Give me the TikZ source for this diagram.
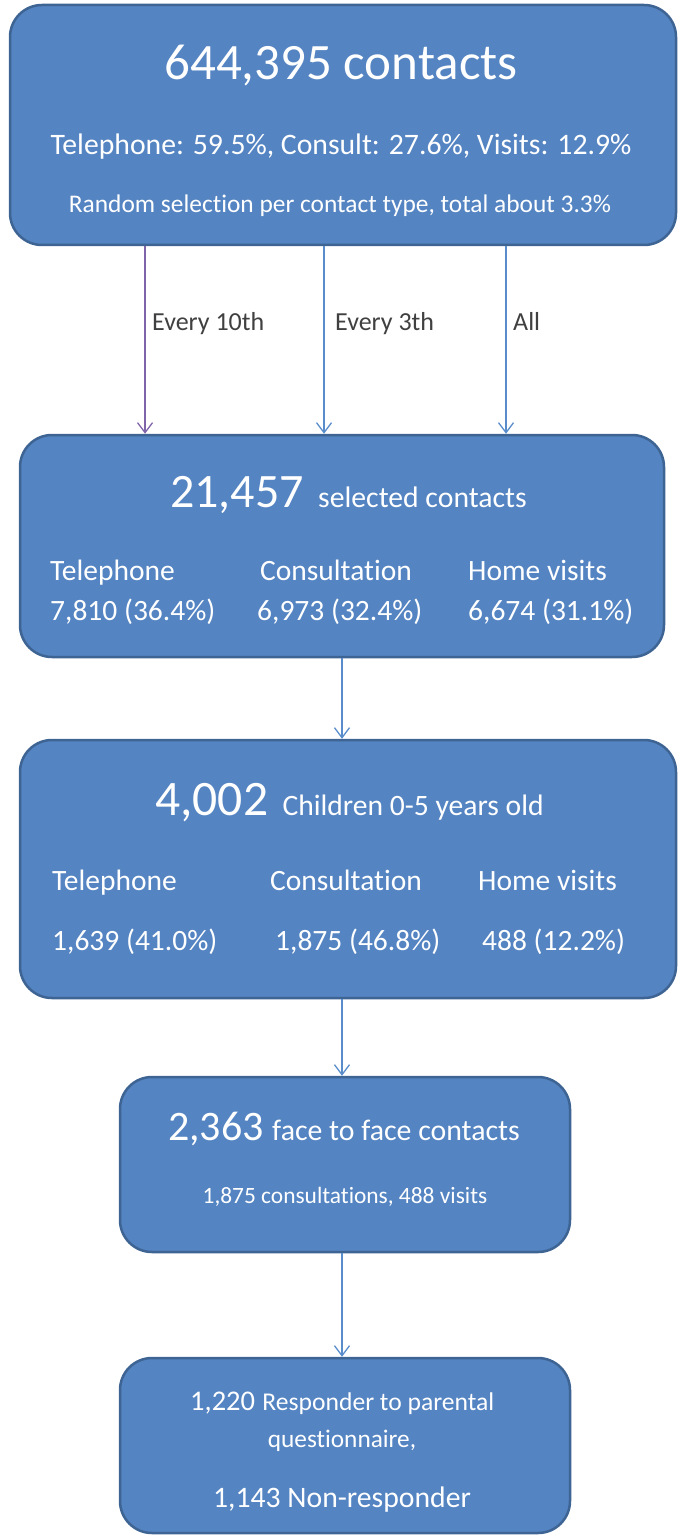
\documentclass[tikz,border=0pt]{standalone}
\usepackage{fontspec}
\setmainfont{Carlito}[Ligatures=NoCommon]
\usetikzlibrary{arrows.meta,positioning}
\definecolor{boxfill}{RGB}{84,132,194}
\definecolor{boxedge}{RGB}{62,100,148}
\definecolor{linkblue}{RGB}{88,140,202}
\definecolor{linkpurple}{RGB}{128,100,170}
\definecolor{labelgray}{RGB}{64,64,64}

\begin{document}
\begin{tikzpicture}[x=1pt,y=-1pt,
  flowbox/.style={draw=boxedge, line width=2.5pt, fill=boxfill, rounded corners=32pt, inner sep=0pt},
  boxtext/.style={text=white, inner sep=0pt},
  link/.style={line width=1.3pt, -{Straight Barb[length=10pt,width=15pt]}},
  linklabel/.style={text=labelgray, inner sep=0pt, anchor=base west, font=\fontsize{26}{30}\selectfont}]
\useasboundingbox (0,0) rectangle (685,1538);

% boxes
\node[flowbox, minimum width=666, minimum height=240] (contacts) at (343,125) {};
\node[flowbox, minimum width=644, minimum height=222] (selected) at (342,546) {};
\node[flowbox, minimum width=656, minimum height=258] (children) at (348,869) {};
\node[flowbox, minimum width=450, minimum height=175] (facetoface) at (345,1164.5) {};
\node[flowbox, minimum width=450, minimum height=175] (response) at (345,1445.5) {};

% all contacts
\node[boxtext, anchor=base, font=\fontsize{51}{60}\selectfont] (total) at (341,80) {644,395 contacts};
\node[boxtext, anchor=base, font=\fontsize{29.7}{34}\selectfont] (shares) at (341,155) {Telephone: 59.5\%, Consult: 27.6\%, Visits: 12.9\%};
\node[boxtext, anchor=base, font=\fontsize{25.4}{30}\selectfont] (sampling) at (340,213) {Random selection per contact type, total about 3.3\%};

% sampling arrows
\coordinate (tenth) at (145,0);
\coordinate (third) at (324,0);
\coordinate (every) at (506,0);
\coordinate (spine) at (342,0);
\draw[link, linkpurple] (contacts.south -| tenth) -- (selected.north -| tenth);
\draw[link, linkblue] (contacts.south -| third) -- (selected.north -| third);
\draw[link, linkblue] (contacts.south -| every) -- (selected.north -| every);
\node[linklabel] (lab10) at (152,330) {Every 10th};
\node[linklabel] (lab3) at (335,330) {Every 3th};
\node[linklabel] (laball) at (513,330) {All};

% selected contacts
\node[boxtext, anchor=base west, font=\fontsize{48}{56}\selectfont] (selnum) at (170,507) {21,457};
\node[boxtext, base right=14pt of selnum, font=\fontsize{29.7}{34}\selectfont] (seltext) {selected contacts};
\node[boxtext, anchor=base west, font=\fontsize{29.5}{34}\selectfont] (seltel) at (50,580) {Telephone};
\node[boxtext, anchor=base west, font=\fontsize{29.5}{34}\selectfont] (selcon) at (260,580) {Consultation};
\node[boxtext, anchor=base west, font=\fontsize{29.5}{34}\selectfont] (selhome) at (468,580) {Home visits};
\node[boxtext, anchor=base west, font=\fontsize{29.5}{34}\selectfont] (seltelv) at (50,620) {7,810 (36.4\%)};
\node[boxtext, anchor=base west, font=\fontsize{29.5}{34}\selectfont] (selconv) at (257,620) {6,973 (32.4\%)};
\node[boxtext, anchor=base west, font=\fontsize{29.5}{34}\selectfont] (selhomev) at (468,620) {6,674 (31.1\%)};

% children 0-5
\node[boxtext, anchor=base west, font=\fontsize{49.6}{58}\selectfont] (kidnum) at (155,815) {4,002};
\node[boxtext, base right=14pt of kidnum, font=\fontsize{29.6}{34}\selectfont] (kidtext) {Children 0-5 years old};
\node[boxtext, anchor=base west, font=\fontsize{29.5}{34}\selectfont] (kidtel) at (52,890) {Telephone};
\node[boxtext, anchor=base west, font=\fontsize{29.5}{34}\selectfont] (kidcon) at (270,890) {Consultation};
\node[boxtext, anchor=base west, font=\fontsize{29.5}{34}\selectfont] (kidhome) at (478,890) {Home visits};
\node[boxtext, anchor=base west, font=\fontsize{29.5}{34}\selectfont] (kidtelv) at (52,950) {1,639 (41.0\%)};
\node[boxtext, anchor=base west, font=\fontsize{29.5}{34}\selectfont] (kidconv) at (275,950) {1,875 (46.8\%)};
\node[boxtext, anchor=base west, font=\fontsize{29.5}{34}\selectfont] (kidhomev) at (482,950) {488 (12.2\%)};

% face to face
\node[boxtext, anchor=base west, font=\fontsize{42}{50}\selectfont] (ftfnum) at (168,1140) {2,363};
\node[boxtext, base right=8pt of ftfnum, font=\fontsize{29.8}{34}\selectfont] (ftftext) {face to face contacts};
\node[boxtext, anchor=base, font=\fontsize{23.4}{28}\selectfont] (ftfsplit) at (345,1203) {1,875 consultations, 488 visits};

% questionnaire
\node[boxtext, anchor=base west, font=\fontsize{28.5}{34}\selectfont] (respnum) at (190,1410) {1,220};
\node[boxtext, base right=7pt of respnum, font=\fontsize{25.6}{30}\selectfont] (resptext) {Responder to parental};
\node[boxtext, anchor=base, font=\fontsize{25.3}{30}\selectfont] (respmore) at (342,1447) {questionnaire,};
\node[boxtext, anchor=base, font=\fontsize{29.7}{34}\selectfont] (nonresp) at (342,1507) {1,143 Non-responder};

% flow down
\draw[link, linkblue] (selected.south -| spine) -- (children.north -| spine);
\draw[link, linkblue] (children.south -| spine) -- (facetoface.north -| spine);
\draw[link, linkblue] (facetoface.south -| spine) -- (response.north -| spine);
\end{tikzpicture}
\end{document}
